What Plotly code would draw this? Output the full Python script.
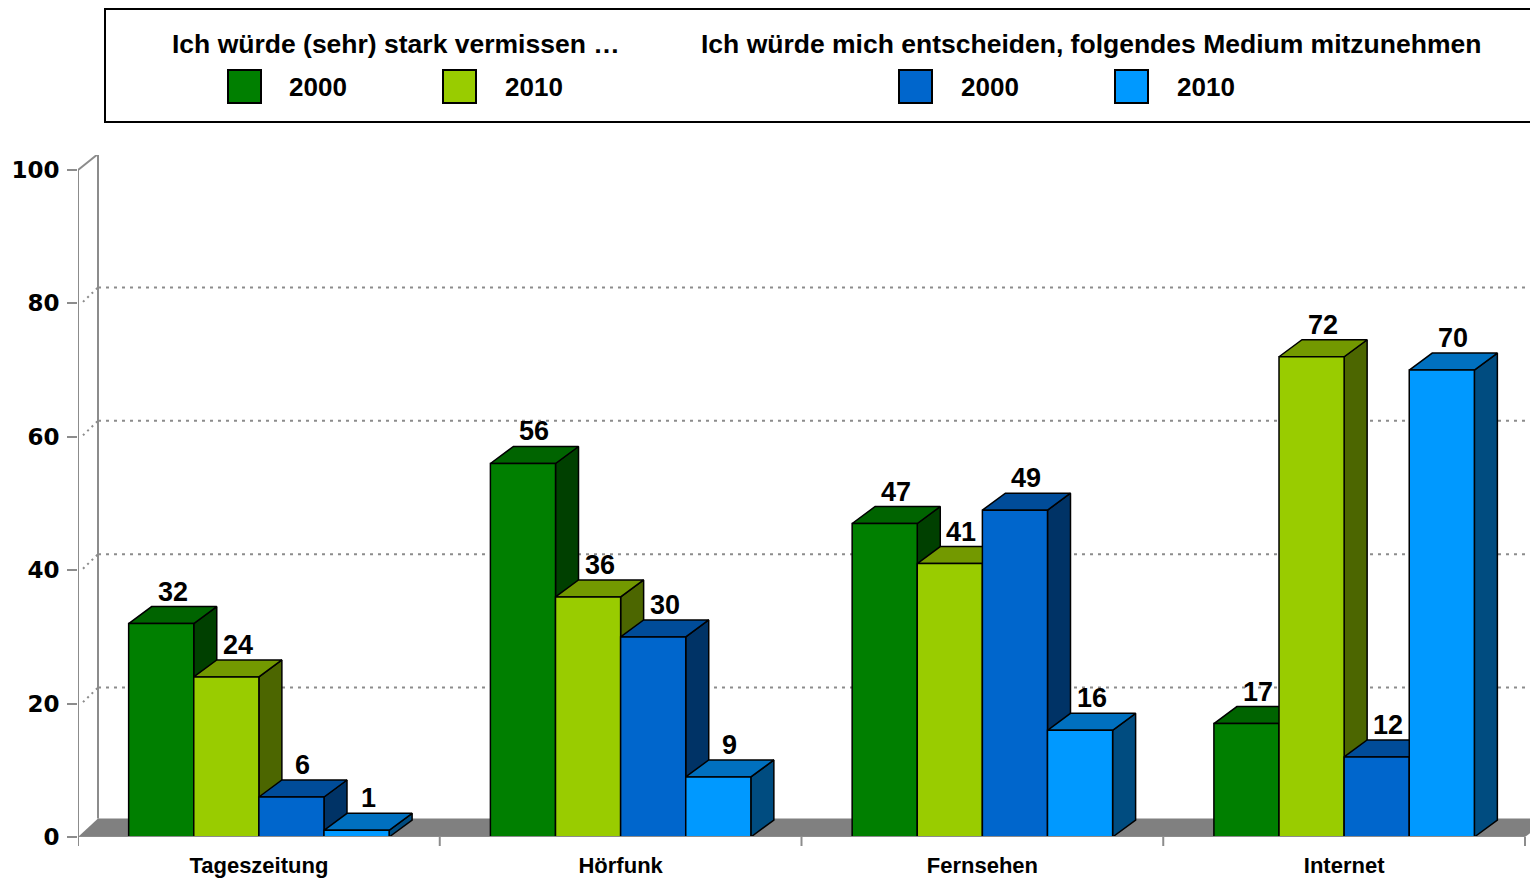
import plotly.graph_objects as go

# ---------------- data ----------------
categories = ["Tageszeitung", "Hörfunk", "Fernsehen", "Internet"]
miss_2000 = [32, 56, 47, 17]
miss_2010 = [24, 36, 41, 72]
take_2000 = [6, 30, 49, 12]
take_2010 = [1, 9, 16, 70]
y_ticks = [0, 20, 40, 60, 80, 100]
group_titles = ["Ich würde (sehr) stark vermissen …",
                "Ich würde mich entscheiden, folgendes Medium mitzunehmen"]
series_names = ["2000", "2010", "2000", "2010"]

series = [miss_2000, miss_2010, take_2000, take_2010]
front_cols = ["#007F00", "#99CC00", "#0066CC", "#0099FF"]
top_cols = ["#006400", "#739900", "#004C99", "#0070BF"]
side_cols = ["#004000", "#4C6600", "#003366", "#004C80"]

# ---------------- geometry ----------------
OFF = 8                     # page body margin
W, H = 1538 - OFF, 879 - OFF
L, R, T, B = 78 - OFF, 0, 155 - OFF, 879 - 837
PW, PH = W - L - R, H - T - B
PX_PER_CAT = 361.75
PX_PER_VAL = 6.67
XMAX = -0.5 + PW / PX_PER_CAT
YMAX = PH / PX_PER_VAL

BAR_W = 0.18
offsets = [-0.36, -0.18, 0.0, 0.18]
DX = 23 / PX_PER_CAT      # bar depth (x)
DY = 17 / PX_PER_VAL      # bar depth (y)
BDX = 20 / PX_PER_CAT     # back wall offset
BDY = 16 / PX_PER_VAL
FDY = 18.5 / PX_PER_VAL   # floor depth
GRAY = "#8C8C8C"
FONT = "Liberation Sans, Arial, sans-serif"


def px_x(p):
    """screen pixel (reference) -> paper x"""
    return (p - OFF - L) / PW


def px_y(p):
    """screen pixel (reference) -> paper y"""
    return (H - B - (p - OFF)) / PH


fig = go.Figure()

# floor
fig.add_trace(go.Scatter(
    x=[-0.5, 3.5, 3.5 + BDX * 1.2, -0.5 + BDX, -0.5],
    y=[0, 0, FDY, FDY, 0],
    mode="lines", fill="toself", fillcolor="#808080",
    line=dict(color="#808080", width=0), hoverinfo="skip", showlegend=False,
    xaxis="x", yaxis="y"))

# side and top faces
side_traces = []
top_traces = []
for k, vals in enumerate(series):
    sx, sy, tx, ty = [], [], [], []
    for i, v in enumerate(vals):
        left = i + offsets[k]
        right = left + BAR_W
        sx += [right, right + DX, right + DX, right, right, None]
        sy += [0, DY, v + DY, v, 0, None]
        tx += [left, right, right + DX, left + DX, left, None]
        ty += [v, v, v + DY, v + DY, v, None]
    side_traces.append(go.Scatter(
        x=sx, y=sy, mode="lines", fill="toself", fillcolor=side_cols[k],
        line=dict(color="black", width=1.5), hoverinfo="skip",
        showlegend=False, xaxis="x", yaxis="y"))
    top_traces.append(go.Scatter(
        x=tx, y=ty, mode="lines", fill="toself", fillcolor=top_cols[k],
        line=dict(color="black", width=1.5), hoverinfo="skip",
        showlegend=False, xaxis="x", yaxis="y"))
for tr in side_traces + top_traces:
    fig.add_trace(tr)

# front faces as real bars on an overlaid subplot
for k, vals in enumerate(series):
    fig.add_trace(go.Bar(
        x=list(range(len(categories))), y=vals, width=BAR_W, offset=offsets[k],
        marker=dict(color=front_cols[k], line=dict(color="black", width=1.5)),
        name=series_names[k], showlegend=False, xaxis="x2", yaxis="y2"))

# value labels
annotations = []
for k, vals in enumerate(series):
    for i, v in enumerate(vals):
        annotations.append(dict(
            x=i + offsets[k] + BAR_W / 2 + DX / 2, y=v + DY, xref="x", yref="y",
            text=f"<b>{v}</b>", showarrow=False, yanchor="bottom", yshift=-2,
            font=dict(family=FONT, size=27, color="black")))

# grid / walls
shapes = []
for v in y_ticks[1:]:
    shapes.append(dict(type="line", xref="x", yref="y", x0=-0.5 + BDX, x1=XMAX + 0.1,
                       y0=v + BDY, y1=v + BDY, layer="below",
                       line=dict(color=GRAY, width=2, dash="3px,5px")))
    shapes.append(dict(type="line", xref="x", yref="y",
                       x0=-0.5 + (0 if v == 100 else 5 / PX_PER_CAT), x1=-0.5 + BDX,
                       y0=v + (0 if v == 100 else 1.5 / PX_PER_VAL), y1=v + BDY,
                       layer="below",
                       line=dict(color=GRAY, width=2, dash="solid" if v == 100 else "2px,4px")))
# back wall left edge
shapes.append(dict(type="line", xref="x", yref="y", x0=-0.5 + BDX, x1=-0.5 + BDX,
                   y0=FDY, y1=100 + BDY, layer="below", line=dict(color=GRAY, width=2)))
# front y axis line
shapes.append(dict(type="line", xref="x", yref="y", x0=-0.5, x1=-0.5,
                   y0=0, y1=100, layer="above", line=dict(color=GRAY, width=2)))
# front x axis line
shapes.append(dict(type="line", xref="x", yref="y", x0=-0.5, x1=3.5,
                   y0=0, y1=0, layer="above", line=dict(color=GRAY, width=2)))
# category boundary ticks
for b in [-0.5, 0.5, 1.5, 2.5, 3.5]:
    shapes.append(dict(type="line", xref="x", yref="paper", x0=b, x1=b,
                       y0=0, y1=px_y(837 + 9), layer="above",
                       line=dict(color=GRAY, width=2)))

# legend box
shapes.append(dict(type="rect", xref="paper", yref="paper",
                   x0=px_x(105), x1=px_x(1560), y0=px_y(122), y1=px_y(9),
                   line=dict(color="black", width=2), fillcolor="white"))
swatch_x = [228, 443, 899, 1115]
label_x = [287, 503, 959, 1175]
for k in range(4):
    shapes.append(dict(type="rect", xref="paper", yref="paper",
                       x0=px_x(swatch_x[k]), x1=px_x(swatch_x[k] + 33),
                       y0=px_y(103), y1=px_y(70),
                       line=dict(color="black", width=2), fillcolor=front_cols[k]))
    annotations.append(dict(x=px_x(label_x[k]), y=px_y(87), xref="paper", yref="paper",
                            text=f"<b>{series_names[k]}</b>", showarrow=False,
                            xanchor="left", yanchor="middle",
                            font=dict(family=FONT, size=26, color="black")))
for x0, t in zip([170, 699], group_titles):
    annotations.append(dict(x=px_x(x0), y=px_y(44), xref="paper", yref="paper",
                            text=f"<b>{t}</b>", showarrow=False,
                            xanchor="left", yanchor="middle",
                            font=dict(family=FONT, size=26.5, color="black")))

fig.update_layout(
    width=W, height=H, margin=dict(l=L, r=R, t=T, b=B),
    paper_bgcolor="white", plot_bgcolor="white",
    barmode="overlay", showlegend=False,
    shapes=shapes, annotations=annotations,
    xaxis=dict(range=[-0.5, XMAX], tickmode="array",
               tickvals=list(range(len(categories))),
               ticktext=[f"<b>{c}</b>" for c in categories],
               ticks="", showgrid=False, zeroline=False, showline=False,
               ticklabelstandoff=13,
               tickfont=dict(family=FONT, size=22, color="black")),
    yaxis=dict(range=[0, YMAX], tickmode="array", tickvals=y_ticks,
               ticks="outside", ticklen=10, tickwidth=2, tickcolor=GRAY,
               ticklabelstandoff=3,
               showgrid=False, zeroline=False, showline=False,
               tickfont=dict(family="DejaVu Sans, Verdana, sans-serif", size=23,
                             color="black", weight="bold")),
    xaxis2=dict(range=[-0.5, XMAX], overlaying="x", visible=False),
    yaxis2=dict(range=[0, YMAX], overlaying="y", visible=False),
)

fig.write_html("out.html")
